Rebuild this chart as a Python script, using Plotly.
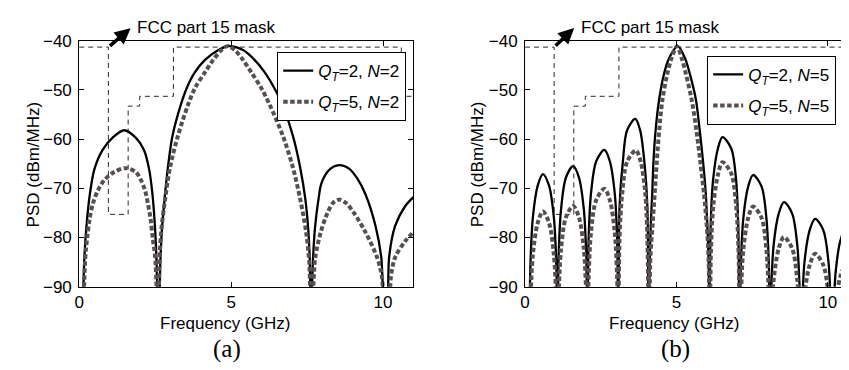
import plotly.graph_objects as go

# ---------------- data ----------------
# FCC part 15 indoor mask (GHz, dBm/MHz)
mask_f = [0, 0.96, 0.96, 1.61, 1.61, 1.99, 1.99, 3.1, 3.1, 10.6, 10.6, 11]
mask_p = [-41.3, -41.3, -75.3, -75.3, -53.3, -53.3, -51.3, -51.3, -41.3, -41.3, -51.3, -51.3]

# panel (a): N=2
fa_q2 = [0.10, 0.17, 0.24, 0.35, 0.50, 0.77, 1.10, 1.48, 1.86, 2.13, 2.30, 2.41, 2.49, 2.54, 2.61,
         2.67, 2.72, 2.81, 2.92, 3.07, 3.35, 3.54, 3.81, 4.14, 4.58, 4.92, 5.39, 5.77, 6.10, 6.42,
         6.68, 7.03, 7.27, 7.44, 7.54, 7.59, 7.62,
         7.69, 7.76, 7.88, 7.97, 8.22, 8.55, 8.88, 9.15, 9.42, 9.75, 9.94, 10.08,
         10.12, 10.20, 10.40, 10.72, 11.0]
pa_q2 = [-100, -84.0, -77.6, -71.2, -66.1, -62.2, -59.7, -58.2, -59.7, -62.2, -66.1, -71.2, -77.6, -84.0, -100,
         -85.0, -78.6, -72.1, -65.7, -59.3, -52.9, -49.6, -46.4, -43.9, -41.9, -41.1, -41.9, -43.9, -46.4, -49.6,
         -52.9, -59.3, -65.7, -72.1, -78.6, -85.0, -100,
         -85.0, -78.0, -72.0, -69.0, -66.3, -65.3, -66.0, -68.0, -71.2, -77.6, -84.0, -100,
         -100, -84.0, -77.6, -73.7, -71.8]

fa_q5 = [0.12, 0.20, 0.26, 0.34, 0.45, 0.61, 0.83, 1.15, 1.53, 1.86, 2.03, 2.17, 2.26, 2.35, 2.42, 2.50, 2.60,
         2.64, 2.70, 2.83, 2.99, 3.25, 3.59, 3.81, 4.14, 4.41, 4.68, 4.88, 5.12, 5.39, 5.66, 5.99, 6.26,
         6.70, 7.03, 7.27, 7.46, 7.57, 7.63,
         7.72, 7.77, 7.95, 8.17, 8.35, 8.55, 8.78, 9.04, 9.42, 9.80, 9.96, 10.08,
         10.15, 10.26, 10.40, 10.72, 11.0]
pa_q5 = [-100, -84.0, -80.2, -76.3, -73.1, -70.5, -68.3, -66.7, -65.9, -66.7, -68.3, -70.5, -73.1, -76.3, -80.2, -84.0, -100,
         -85.0, -78.6, -72.1, -65.7, -59.3, -52.9, -49.6, -46.4, -43.9, -41.9, -41.1, -41.9, -43.9, -46.4, -49.6, -52.9,
         -59.3, -65.7, -72.1, -78.6, -85.0, -100,
         -88.0, -84.0, -78.9, -75.0, -73.0, -72.3, -73.0, -75.0, -78.9, -84.0, -87.9, -100,
         -100, -87.9, -84.0, -80.8, -78.9]

# panel (b): N=5
fb_q2 = [0.14, 0.18, 0.26, 0.42, 0.59, 0.79, 0.95, 1.03, 1.07,
         1.11, 1.19, 1.35, 1.59, 1.78, 1.94, 2.02, 2.06,
         2.10, 2.18, 2.35, 2.62, 2.80, 2.96, 3.04, 3.08,
         3.12, 3.23, 3.37, 3.64, 3.80, 3.94, 4.04, 4.08,
         4.12, 4.15, 4.20, 4.24, 4.31, 4.43, 4.59, 4.76, 5.04, 5.28, 5.44, 5.64, 5.77, 5.88, 5.97, 6.02, 6.06, 6.09,
         6.13, 6.21, 6.37, 6.52, 6.81, 6.97, 7.04, 7.09,
         7.13, 7.21, 7.37, 7.53, 7.81, 7.97, 8.05, 8.09,
         8.13, 8.21, 8.38, 8.55, 8.82, 8.99, 9.07, 9.11,
         9.15, 9.23, 9.40, 9.58, 9.85, 10.02, 10.10, 10.14,
         10.18, 10.26, 10.42, 10.60, 10.78, 10.93, 11.0]
pb_q2 = [-100, -85.1, -75.8, -69.4, -67.1, -69.4, -75.8, -85.1, -100,
         -83.5, -74.2, -67.8, -65.5, -67.8, -74.2, -83.5, -100,
         -80.2, -70.9, -64.5, -62.2, -64.5, -70.9, -80.2, -100,
         -73.9, -64.6, -58.2, -55.9, -58.2, -64.6, -73.9, -100,
         -84.0, -77.6, -71.2, -64.7, -58.3, -51.9, -46.7, -43.5, -41.1, -43.5, -46.7, -51.9, -58.3, -64.7, -71.2, -77.6, -84.0, -100,
         -77.6, -68.3, -61.9, -59.6, -61.9, -68.3, -77.6, -100,
         -85.3, -76.0, -69.6, -67.3, -69.6, -76.0, -85.3, -100,
         -90.8, -81.5, -75.1, -72.8, -75.1, -81.5, -90.8, -100,
         -94.2, -84.9, -78.5, -76.2, -78.5, -84.9, -94.2, -100,
         -96.2, -86.9, -80.5, -78.2, -79.6, -82.7, -84.5]

fb_q5 = [0.14, 0.18, 0.26, 0.42, 0.59, 0.79, 0.95, 1.03, 1.07,
         1.11, 1.19, 1.35, 1.59, 1.78, 1.94, 2.02, 2.06,
         2.10, 2.18, 2.35, 2.62, 2.80, 2.96, 3.04, 3.08,
         3.12, 3.21, 3.37, 3.66, 3.82, 3.97, 4.04, 4.09,
         4.14, 4.21, 4.28, 4.35, 4.43, 4.54, 4.70, 4.84, 5.02, 5.17, 5.31, 5.50, 5.66, 5.79, 5.91, 6.00, 6.06, 6.10,
         6.14, 6.22, 6.38, 6.52, 6.81, 6.97, 7.05, 7.09,
         7.13, 7.21, 7.37, 7.53, 7.81, 7.97, 8.05, 8.09,
         8.21, 8.38, 8.55, 8.82, 8.99, 9.11,
         9.25, 9.40, 9.58, 9.85, 10.00, 10.14,
         10.30, 10.42, 10.60, 10.78, 10.93, 11.0]
pb_q5 = [-100, -92.7, -83.4, -77.0, -74.7, -77.0, -83.4, -92.7, -100,
         -91.6, -82.3, -75.9, -73.6, -75.9, -82.3, -91.6, -100,
         -88.1, -78.8, -72.4, -70.1, -72.4, -78.8, -88.1, -100,
         -80.3, -71.0, -64.6, -62.3, -64.6, -71.0, -80.3, -100,
         -84.0, -77.6, -71.2, -64.7, -58.3, -51.9, -46.7, -43.5, -41.1, -43.5, -46.7, -51.9, -58.3, -64.7, -71.2, -77.6, -84.0, -100,
         -82.7, -73.4, -67.0, -64.7, -67.0, -73.4, -82.7, -100,
         -91.7, -82.4, -76.0, -73.7, -76.0, -82.4, -91.7, -100,
         -88.6, -82.2, -79.9, -82.2, -88.6, -100,
         -90.5, -85.6, -83.3, -85.6, -90.5, -100,
         -91.5, -87.8, -85.5, -86.5, -88.5, -89.8]

x_ticks = [0, 5, 10]
y_ticks = [-90, -80, -70, -60, -50, -40]

names_a = ["<i>Q</i><sub><i>T</i></sub>=2, <i>N</i>=2", "<i>Q</i><sub><i>T</i></sub>=5, <i>N</i>=2"]
names_b = ["<i>Q</i><sub><i>T</i></sub>=2, <i>N</i>=5", "<i>Q</i><sub><i>T</i></sub>=5, <i>N</i>=5"]

# ---------------- styling ----------------
FONT = "Liberation Sans, Arial, sans-serif"
GRAY = "#585050"
W, H = 849, 370

fig = go.Figure()

def add_panel(xa, ya, lg, f2, p2, f5, p5, names, tag):
    fig.add_trace(go.Scatter(x=mask_f, y=mask_p, mode="lines", xaxis=xa, yaxis=ya,
                             line=dict(color="#2a2a2a", width=1, dash="5px,4px"),
                             showlegend=False, hoverinfo="skip"))
    fig.add_trace(go.Scatter(x=f2, y=p2, mode="lines", xaxis=xa, yaxis=ya, name=names[0],
                             legend=lg, legendgroup=tag + "1",
                             line=dict(color="black", width=2.3, shape="spline", smoothing=0.9)))
    fig.add_trace(go.Scatter(x=f5, y=p5, mode="lines", xaxis=xa, yaxis=ya, name=names[1],
                             legend=lg, legendgroup=tag + "2",
                             line=dict(color=GRAY, width=4, dash="4.5px,2.5px",
                                       shape="spline", smoothing=0.9)))

add_panel("x", "y", "legend", fa_q2, pa_q2, fa_q5, pa_q5, names_a, "a")
add_panel("x2", "y2", "legend2", fb_q2, pb_q2, fb_q5, pb_q5, names_b, "b")

ydom = [1 - 284.3 / H, 1 - 25 / H]
axis_common = dict(showline=True, linecolor="black", linewidth=1, mirror="allticks",
                   ticks="inside", ticklen=5, tickcolor="black", showgrid=False, zeroline=False,
                   tickfont=dict(family=FONT, size=17, color="black"))

legend_common = dict(xanchor="right", yanchor="top", bgcolor="white", bordercolor="black",
                     borderwidth=1, font=dict(family=FONT, size=17, color="black"),
                     tracegroupgap=6, itemwidth=30)

fig.update_layout(
    width=W, height=H,
    margin=dict(l=0, r=0, t=0, b=0),
    paper_bgcolor="white", plot_bgcolor="white",
    xaxis=dict(domain=[66.7 / W, 403.3 / W], range=[0, 11], tickvals=x_ticks,
               ticklabelstandoff=0, anchor="y", **axis_common),
    yaxis=dict(domain=ydom, range=[-90, -40], tickvals=y_ticks,
               ticklabelstandoff=3, anchor="x", **axis_common),
    xaxis2=dict(domain=[515.7 / W, 1.0], range=[0, 10.93], tickvals=x_ticks,
                ticklabelstandoff=0, anchor="y2", **axis_common),
    yaxis2=dict(domain=ydom, range=[-90, -40], tickvals=y_ticks,
                ticklabelstandoff=3, anchor="x2", **axis_common),
    legend=dict(x=396 / W, y=1 - 37 / H, **legend_common),
    legend2=dict(x=829 / W, y=1 - 41 / H, **legend_common),
    showlegend=True,
)

ann_font = dict(family=FONT, size=17, color="black")
serif = dict(family="Liberation Serif, Times New Roman, serif", size=25, color="black")
annotations = [
    # x titles
    dict(text="Frequency (GHz)", x=214 / W, y=1 - 323 / H, xref="paper", yref="paper",
         showarrow=False, xanchor="center", yanchor="middle", font=ann_font),
    dict(text="Frequency (GHz)", x=666 / W, y=1 - 323 / H, xref="paper", yref="paper",
         showarrow=False, xanchor="center", yanchor="middle", font=ann_font),
    # y titles
    dict(text="PSD (dBm/MHz)", x=20.5 / W, y=1 - 155 / H, xref="paper", yref="paper",
         showarrow=False, textangle=-90, xanchor="center", yanchor="middle", font=ann_font),
    dict(text="PSD (dBm/MHz)", x=467.5 / W, y=1 - 155 / H, xref="paper", yref="paper",
         showarrow=False, textangle=-90, xanchor="center", yanchor="middle", font=ann_font),
    # panel labels
    dict(text="(a)", x=216 / W, y=1 - 350 / H, xref="paper", yref="paper", showarrow=False,
         xanchor="center", yanchor="middle", font=serif),
    dict(text="(b)", x=667 / W, y=1 - 350 / H, xref="paper", yref="paper", showarrow=False,
         xanchor="center", yanchor="middle", font=serif),
    # FCC labels
    dict(text="FCC part 15 mask", x=123 / W, y=1 - 10.7 / H, xref="paper", yref="paper",
         showarrow=False, xanchor="left", yanchor="middle", font=ann_font),
    dict(text="FCC part 15 mask", x=570 / W, y=1 - 10.7 / H, xref="paper", yref="paper",
         showarrow=False, xanchor="left", yanchor="middle", font=ann_font),
    # arrows (tail at mask corner, head toward label)
    dict(text="", x=1.69, y=-37.45, xref="x", yref="y", ax=0.96, ay=-41.3, axref="x", ayref="y",
         showarrow=True, arrowhead=2, arrowsize=0.9, arrowwidth=3.5, arrowcolor="black"),
    dict(text="", x=1.62, y=-37.4, xref="x2", yref="y2", ax=0.96, ay=-41.3, axref="x2", ayref="y2",
         showarrow=True, arrowhead=2, arrowsize=0.9, arrowwidth=3.5, arrowcolor="black"),
]
fig.update_layout(annotations=annotations)

fig.write_html("out.html")
